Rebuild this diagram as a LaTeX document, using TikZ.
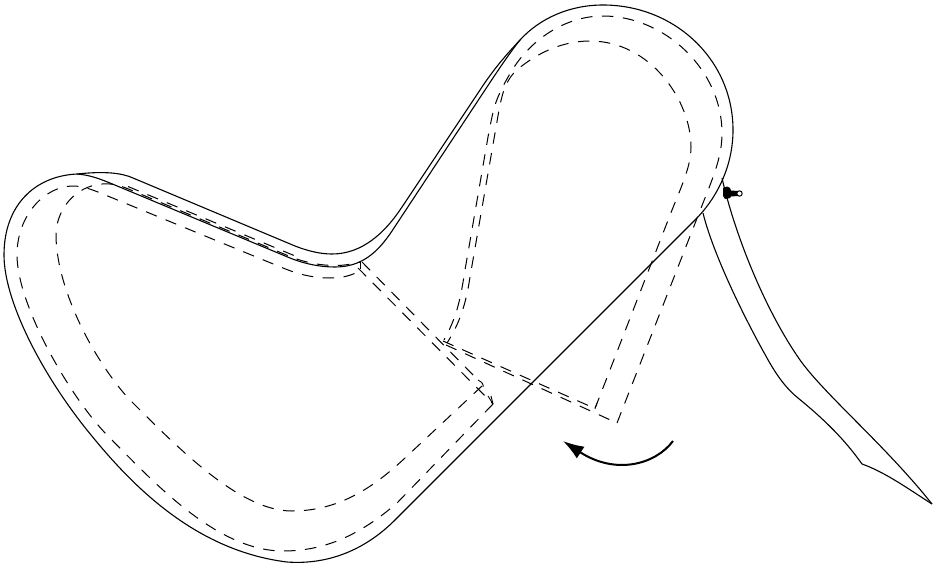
\documentclass[tikz,border=0pt]{standalone}
\usetikzlibrary{arrows.meta}
\tikzset{
  outline/.style={line width=1.1pt,black,line join=round},
  dashline/.style={line width=1pt,black,dash pattern=on 11.5pt off 9.5pt},
  tick/.style={line width=0.9pt,black},
}
\begin{document}
\begin{tikzpicture}[x=1pt,y=-1pt]
\useasboundingbox (0,0) rectangle (940,565);
% outer outline
\draw[outline] (77,174) .. controls (35,176) and (4,205) .. (4,255)
 .. controls (4,300) and (40,370) .. (83,425)
 .. controls (125,478) and (190,550) .. (287,562)
 .. controls (328,565) and (365,550) .. (395,520)
 -- (695,220)
 .. controls (718,197) and (733,165) .. (733,130)
 .. controls (733,60) and (675,5) .. (603,5)
 .. controls (570,5) and (540,18) .. (520,40)
 .. controls (508,53) and (495,67) .. (480,90)
 -- (402,207)
 .. controls (385,233) and (362,254) .. (332,254)
 .. controls (320,254) and (308,251) .. (295,246)
 -- (133,178)
 .. controls (122,173) and (105,171) .. (77,174);
% inner solid
\draw[outline] (77,174) .. controls (90,175) and (100,179) .. (110,183)
 -- (290,258)
 .. controls (305,264) and (320,267) .. (335,267)
 .. controls (362,267) and (378,252) .. (392,231)
 -- (485,90)
 .. controls (495,75) and (508,55) .. (520,40);
% loops, dashed
\draw[dashline] (493,404) -- (397,503)
 .. controls (360,535) and (325,551) .. (283,551)
 .. controls (215,551) and (150,478) .. (107,435)
 .. controls (70,397) and (17,305) .. (17,255)
 .. controls (17,215) and (45,186) .. (73,186)
 .. controls (82,186) and (90,189) .. (98,192)
 -- (283,268)
 .. controls (300,275) and (315,278) .. (330,278)
 .. controls (342,278) and (350,276) .. (360,271);
\draw[dashline] (482,386) -- (405,458)
 .. controls (375,486) and (340,511) .. (292,511)
 .. controls (240,511) and (180,450) .. (128,398)
 .. controls (90,355) and (56,285) .. (56,235)
 .. controls (56,210) and (75,186) .. (102,184)
 .. controls (112,183) and (122,186) .. (132,190.5)
 -- (290,256.5)
 .. controls (305,262.5) and (320,265.5) .. (335,265.5)
 .. controls (345,265.5) and (352,264) .. (360,262);
\draw[dashline] (128,186.5) -- (300,258);
\draw[tick] (360,262) -- (360,269);
% diagonals
\draw[dashline] (358,268) -- (493,404);
\draw[dashline] (362,262) -- (478,380);
\draw[tick] (478,380) .. controls (482,382) and (484,385) .. (483,387);
\draw[tick] (493,404) -- (488,396);
\draw[tick] (493,404) -- (491,396);
% right loop, dashed
\draw[dashline] (443,341) -- (595,408.5);
\draw[dashline] (446,345) -- (617,423);
\draw[tick] (595,408.5) -- (597,403);
\draw[dashline] (617,423) -- (703,203)
 .. controls (715,173) and (722,155) .. (722,133)
 .. controls (722,70) and (665,16) .. (603,16)
 .. controls (565,16) and (530,40) .. (511,72)
 .. controls (505,82) and (499,93) .. (495,105)
 .. controls (492,115) and (490,127) .. (488,137)
 -- (465,270)
 .. controls (461,295) and (458,315) .. (444,340);
\draw[dashline] (595,408.5) -- (672,210)
 .. controls (683,183) and (691,165) .. (691,147)
 .. controls (691,100) and (650,41) .. (590,41)
 .. controls (560,41) and (535,55) .. (518,69)
 .. controls (505,80) and (502,95) .. (499,110)
 -- (470,277)
 .. controls (467,297) and (462,320) .. (447,343);
% tail
\draw[outline] (703,213) .. controls (712,250) and (740,310) .. (767,358)
 .. controls (778,378) and (788,390) .. (798,398)
 .. controls (825,420) and (845,440) .. (862,464)
 .. controls (885,472) and (910,490) .. (932,504);
\draw[outline] (722,178) .. controls (735,235) and (765,310) .. (800,360)
 .. controls (825,395) and (885,445) .. (932,504);
% pin
\fill[black] (723,188) -- (727,186.5) -- (730,188) -- (731,190.5) -- (738,191) -- (738,196) -- (731,196.5) -- (730,198) -- (725,199) -- (723,196) -- cycle;
\draw[line width=1pt,fill=white] (739.5,193.5) circle (2.7pt);
% arrow
\draw[line width=2pt,-{Latex[length=21pt,width=14pt]}] (673,441) .. controls (655,465) and (615,475) .. (563,441);
\end{tikzpicture}
\end{document}
